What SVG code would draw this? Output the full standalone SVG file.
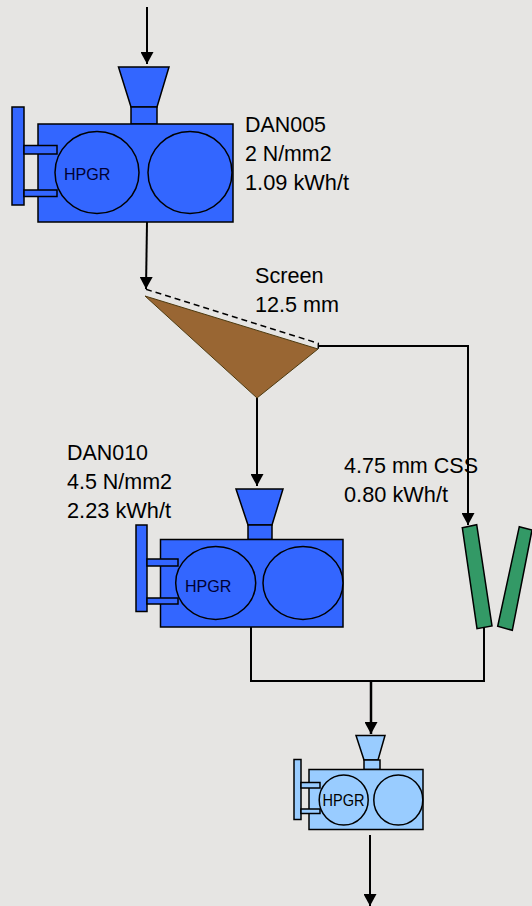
<svg xmlns="http://www.w3.org/2000/svg" width="532" height="906" viewBox="0 0 532 906">
<style>
text{font-family:"Liberation Sans",Arial,sans-serif;fill:#000}
.l{font-size:22.500px}
.h{font-size:17px;fill:#000033}
.s{stroke:#000;stroke-width:1.5}
.d{fill:#3366ff}
.p{fill:#99ccff}
.c{fill:none;stroke:#000;stroke-width:2}
</style>
<defs><marker id="a" markerUnits="userSpaceOnUse" markerWidth="13" markerHeight="13" refX="12" refY="6.500" orient="auto"><path d="M0 0L12 6.500L0 13Z" fill="#000"/></marker></defs>
<rect width="532" height="906" fill="#e6e5e3"/>
<g id="connectors" class="c">
<path d="M147 7V64" marker-end="url(#a)"/>
<path d="M147 222L146 289" marker-end="url(#a)"/>
<path d="M257 398V486" marker-end="url(#a)"/>
<path d="M318 346H468V525" marker-end="url(#a)"/>
<path d="M251 627V681H484V628"/>
<path d="M371 681V734" stroke-width="2.500" marker-end="url(#a)"/>
<path d="M370 835V906" marker-end="url(#a)"/>
</g>
<g id="hpgr1" class="s d">
<path d="M118.500 67H169L157 107H131Z"/>
<rect x="131" y="107" width="26" height="17"/>
<rect x="38" y="124" width="195" height="98"/>
<rect x="12" y="107" width="12" height="98"/>
<rect x="24" y="145.500" width="33" height="8.500"/>
<rect x="24" y="190" width="33" height="6.500"/>
<ellipse cx="97" cy="172.500" rx="42" ry="41"/>
<ellipse cx="190" cy="172.500" rx="42" ry="41"/>
<text class="h" x="64" y="180" stroke="none" textLength="46.500" lengthAdjust="spacingAndGlyphs">HPGR</text>
</g>
<g id="hpgr2" class="s d">
<path d="M236 489H283L272 525H248Z"/>
<rect x="248" y="525" width="24" height="14.500"/>
<rect x="160.500" y="539.500" width="182.500" height="87.500"/>
<rect x="136" y="525" width="11" height="86.500"/>
<rect x="147" y="559" width="31" height="7"/>
<rect x="147" y="598" width="31" height="6"/>
<ellipse cx="215.700" cy="583" rx="40" ry="36.500"/>
<ellipse cx="303" cy="583" rx="40" ry="36.500"/>
<text class="h" x="185" y="591.700" stroke="none" textLength="46.500" lengthAdjust="spacingAndGlyphs">HPGR</text>
</g>
<g id="hpgr3" class="s p">
<path d="M356 735.500H385L378 760H364Z"/>
<rect x="364" y="760" width="16" height="9.500"/>
<rect x="309" y="769.500" width="114" height="60"/>
<rect x="294" y="759.500" width="7" height="60"/>
<rect x="301" y="782.500" width="19" height="5.500"/>
<rect x="301" y="809" width="19" height="4.500"/>
<ellipse cx="343.700" cy="800" rx="24.500" ry="25"/>
<ellipse cx="398.300" cy="800" rx="24.500" ry="25"/>
<text x="322.500" y="805.700" font-size="15.800" fill="#000033" stroke="none" textLength="42" lengthAdjust="spacingAndGlyphs">HPGR</text>
</g>
<g id="screen">
<path d="M145 296L318 349L257 398Z" fill="#996633" stroke="#4d3a10" stroke-width="1"/>
<path d="M146 289.300L318.300 343.300V349" fill="none" stroke="#000" stroke-width="1.500" stroke-dasharray="6 4"/>
</g>
<g id="cone" fill="#339966" stroke="#000" stroke-width="1.500">
<path d="M462.300 527.700L476.700 524.700L492 626L477 628.700Z"/>
<path d="M519.300 526.700L532 530L512.300 630.300L497.700 626.300Z"/>
</g>
<g id="labels">
<text class="l" x="245" y="131.500" textLength="81" lengthAdjust="spacingAndGlyphs">DAN005</text>
<text class="l" x="245" y="160.700" textLength="86.500" lengthAdjust="spacingAndGlyphs">2 N/mm2</text>
<text class="l" x="245" y="190" textLength="104" lengthAdjust="spacingAndGlyphs">1.09 kWh/t</text>
<text class="l" x="255" y="282.700" textLength="68.500" lengthAdjust="spacingAndGlyphs">Screen</text>
<text class="l" x="255" y="311.700" textLength="84" lengthAdjust="spacingAndGlyphs">12.5 mm</text>
<text class="l" x="67" y="460.300" textLength="81" lengthAdjust="spacingAndGlyphs">DAN010</text>
<text class="l" x="67" y="489.300" textLength="105" lengthAdjust="spacingAndGlyphs">4.5 N/mm2</text>
<text class="l" x="67" y="518.300" textLength="104" lengthAdjust="spacingAndGlyphs">2.23 kWh/t</text>
<text class="l" x="344" y="473" textLength="134" lengthAdjust="spacingAndGlyphs">4.75 mm CSS</text>
<text class="l" x="344" y="502" textLength="104" lengthAdjust="spacingAndGlyphs">0.80 kWh/t</text>
</g>
</svg>
